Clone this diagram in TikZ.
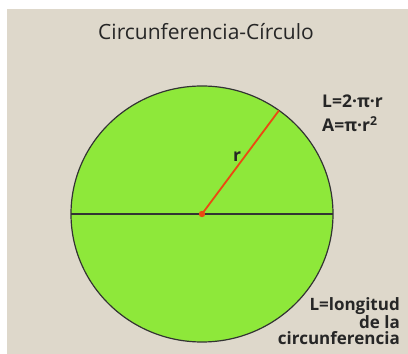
\documentclass[tikz,border=0pt]{standalone}
\usepackage{fontspec}
\setmainfont{Open Sans}
\usetikzlibrary{calc}
\definecolor{papel}{RGB}{222,216,203}
\definecolor{lima}{RGB}{142,232,58}
\definecolor{radio}{RGB}{235,72,18}
\tikzset{
  etiqueta/.style={font=\fontsize{17.5}{18}\selectfont\bfseries, inner sep=0pt, text=black!85},
  nota/.style={etiqueta, font=\fontsize{17}{16.5}\selectfont\bfseries, align=right, anchor=south east},
  borde/.style={line width=1.2pt, draw=black!80}
}
\begin{document}
\begin{tikzpicture}[x=1pt, y=1pt]
  \useasboundingbox (0,0) rectangle (408,354);
  \fill[white] (0,0) rectangle (408,354);
  \fill[papel] (7,0) rectangle (408,345);
  \coordinate (O) at (202,140);
  \coordinate (Izq) at (71,140);
  \coordinate (Der) at (333,140);
  \coordinate (P) at ($(O)+(54:131 and 128)$);
  \fill[lima] (O) ellipse (131 and 128);
  \draw[borde] (O) ellipse (131 and 128);
  \draw[borde] (Izq) -- (Der);
  \draw[radio, line width=1.8pt] (O) -- (P);
  \fill[radio] (O) circle (3.2);
  \node[etiqueta, font=\fontsize{21}{21}\selectfont, anchor=base] (titulo) at (206,314) {Circunferencia-Círculo};
  \node[etiqueta, anchor=base west] (long) at (322,246) {L=2·π·r};
  \node[etiqueta, anchor=base west] (area) at (322,222) {A=π·r\textsuperscript{2}};
  \node[etiqueta, anchor=base] (r) at (237,192) {r};
  \node[nota] (nota) at (400,9) {L=longitud\\de la\\circunferencia};
\end{tikzpicture}
\end{document}
